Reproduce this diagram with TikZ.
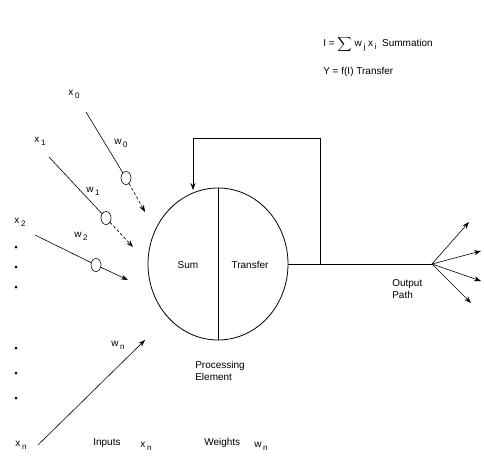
\documentclass[tikz,border=0pt]{standalone}
\usepackage{fontspec}
\setmainfont{Liberation Sans}
\usetikzlibrary{positioning,arrows.meta,shapes.geometric,calc}
\newcommand{\lowsub}[1]{\,\raisebox{-0.6ex}{\fontsize{8}{9}\selectfont #1}}
\tikzset{
  wgt/.style={draw,ellipse,inner sep=0pt,minimum width=10pt,minimum height=13pt,fill=white},
  lbl/.style={font=\fontsize{10}{12}\selectfont,inner sep=1pt},
  dotmark/.style={circle,fill,inner sep=0pt,minimum size=3pt},
}

\begin{document}
\begin{tikzpicture}[x=1pt,y=-1pt,>={Stealth[length=7pt,width=5pt]},line width=0.6pt]
  \useasboundingbox (0,0) rectangle (484,464);
  % processing element
  \node[draw,ellipse,minimum width=140pt,minimum height=152pt,line width=0.8pt] (pe) at (218,264) {};
  \draw (pe.north) -- (pe.south);
  \node[lbl] (sum) at (188,265) {Sum};
  \node[lbl] (tr) at (250,265) {Transfer};
  \node[lbl,align=left,anchor=north west] (pelbl) at (194,360) {Processing\\Element};
  % output path
  \coordinate (fan) at (432,264);
  \coordinate (fb) at (320,264);
  \draw (pe.east) -- (fan);
  \coordinate (out1) at (469,222);
  \coordinate (out2) at (481,251);
  \coordinate (out3) at (481,281);
  \coordinate (out4) at (471,303);
  \foreach \n in {1,...,4} \draw[->] (fan) -- (out\n);
  \node[lbl,align=left,anchor=north west] (outlbl) at (391,278) {Output\\Path};
  % feedback loop
  \coordinate (fbtop) at (193,138);
  \coordinate (fbin) at (193,190);
  \draw[->] (fb) |- (fbtop) -- (fbin);
  % weighted inputs
  \node[lbl] (x0) at (74,94) {x\lowsub{0}};
  \coordinate (s0) at (86,112);
  \node[wgt] (w0) at (126,178) {};
  \coordinate (a0) at (145,212);
  \draw (s0) -- (w0);
  \draw[->,densely dashed] (w0) -- (a0);
  \node[lbl] (w0lbl) at (121,143) {w\lowsub{0}};
  \node[lbl] (x1) at (40,141) {x\lowsub{1}};
  \coordinate (s1) at (49,157);
  \node[wgt] (w1) at (106,218) {};
  \coordinate (a1) at (133,247);
  \draw (s1) -- (w1);
  \draw[->,densely dashed] (w1) -- (a1);
  \node[lbl] (w1lbl) at (93,191) {w\lowsub{1}};
  \node[lbl] (x2) at (20,222) {x\lowsub{2}};
  \coordinate (s2) at (35,235);
  \node[wgt] (w2) at (96,265) {};
  \coordinate (a2) at (128,280);
  \draw (s2) -- (w2);
  \draw[->] (w2) -- (a2);
  \node[lbl] (w2lbl) at (81,236) {w\lowsub{2}};
  % dots between inputs
  \foreach \y in {247,267,287,348,373,398} \node[dotmark] (dot\y) at (16,\y) {};
  \node[lbl] (xn) at (21,445) {x\lowsub{n}};
  \coordinate (sn) at (38,445);
  \coordinate (an) at (145,340);
  \draw[->] (sn) -- (an);
  \node[lbl] (wnlbl) at (118,345) {w\lowsub{n}};
  % captions
  \node[lbl,anchor=west] (inp) at (92,443) {Inputs};
  \node[lbl] (inpx) at (146,446) {x\lowsub{n}};
  \node[lbl,anchor=west] (wts) at (203,443) {Weights};
  \node[lbl] (wtsw) at (261,446) {w\lowsub{n}};
  \node[lbl,anchor=west] (eqi) at (322,44) {I = $\displaystyle\sum$ w\lowsub{j} x\lowsub{i} \ Summation};
  \node[lbl,anchor=west] (eqy) at (322,72) {Y = f(I) Transfer};
\end{tikzpicture}
\end{document}
